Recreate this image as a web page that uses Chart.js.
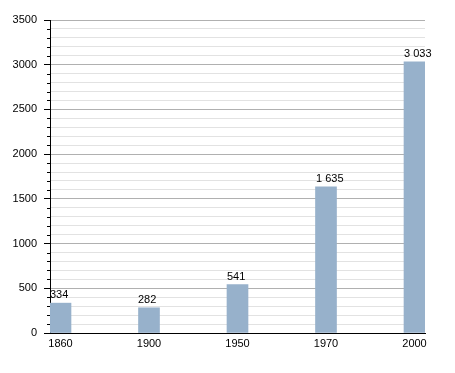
<!DOCTYPE html>
<html>
<head>
<meta charset="utf-8">
<script src="https://cdn.jsdelivr.net/npm/chart.js@4"></script>
<style>
html,body{margin:0;padding:0;background:#fff;}
canvas{display:block;}
</style>
</head>
<body>
<canvas id="c" width="455" height="373"></canvas>
<script>
const years = ['1860', '1900', '1950', '1970', '2000'];
const population = [334, 282, 541, 1635, 3033];
const yMax = 3500;

function fmt(v) {
  return String(v).replace(/\B(?=(\d{3})+(?!\d))/g, ' ');
}

const barLabels = {
  id: 'barLabels',
  afterDatasetsDraw(chart) {
    const ctx = chart.ctx;
    const meta = chart.getDatasetMeta(0);
    ctx.save();
    ctx.font = '11px "Liberation Sans", Arial, sans-serif';
    ctx.fillStyle = '#000';
    ctx.textAlign = 'left';
    ctx.textBaseline = 'alphabetic';
    meta.data.forEach((bar, i) => {
      const p = bar.getProps(['x', 'y', 'width'], true);
      ctx.fillText(fmt(population[i]), Math.round(p.x - p.width / 2), Math.round(p.y - 5));
    });
    ctx.restore();
  }
};

const minorTicks = {
  id: 'minorTicks',
  afterDraw(chart) {
    const y = chart.scales.y;
    const ctx = chart.ctx;
    const left = chart.chartArea.left;
    ctx.save();
    ctx.strokeStyle = '#000';
    ctx.lineWidth = 1;
    y.ticks.forEach(t => {
      if (t.value % 500 !== 0) {
        const py = Math.round(y.getPixelForValue(t.value)) + 0.5;
        ctx.beginPath();
        ctx.moveTo(left - 3, py);
        ctx.lineTo(left, py);
        ctx.stroke();
      }
    });
    ctx.restore();
  }
};

new Chart(document.getElementById('c'), {
  type: 'bar',
  data: {
    datasets: [{
      data: population.map((v, i) => ({ x: i, y: v })),
      backgroundColor: '#97b1cb',
      borderWidth: 0,
      barThickness: 21
    }]
  },
  options: {
    responsive: false,
    animation: false,
    devicePixelRatio: 1,
    layout: { padding: { top: 20, right: 30, left: 0, bottom: 0 } },
    plugins: { legend: { display: false }, tooltip: { enabled: false } },
    scales: {
      x: {
        type: 'linear',
        offset: false,
        min: -0.1186,
        max: 4.1186,
        afterBuildTicks(scale) {
          scale.ticks = years.map((_, i) => ({ value: i }));
        },
        afterFit(scale) { scale.height = 40; },
        grid: { display: false, drawTicks: false, offset: false },
        border: { display: true, color: '#000', width: 1 },
        ticks: {
          autoSkip: false,
          maxRotation: 0,
          padding: 4,
          color: '#000',
          font: { family: '"Liberation Sans", Arial, sans-serif', size: 11 },
          callback: (v) => years[v]
        }
      },
      y: {
        min: 0,
        max: yMax,
        afterFit(scale) { scale.width = 50; },
        border: { display: true, color: '#000', width: 1 },
        grid: {
          color: (c) => (c.tick && c.tick.value % 500 === 0) ? '#b0b0b0' : '#e2e2e2',
          tickColor: (c) => (c.tick && c.tick.value % 500 === 0) ? '#000' : 'rgba(0,0,0,0)',
          tickLength: 6,
          lineWidth: 1
        },
        ticks: {
          stepSize: 100,
          autoSkip: false,
          padding: 7,
          color: '#000',
          font: { family: '"Liberation Sans", Arial, sans-serif', size: 11 },
          callback: (v) => (v % 500 === 0 ? String(v) : '')
        }
      }
    }
  },
  plugins: [barLabels, minorTicks]
});
</script>
</body>
</html>
